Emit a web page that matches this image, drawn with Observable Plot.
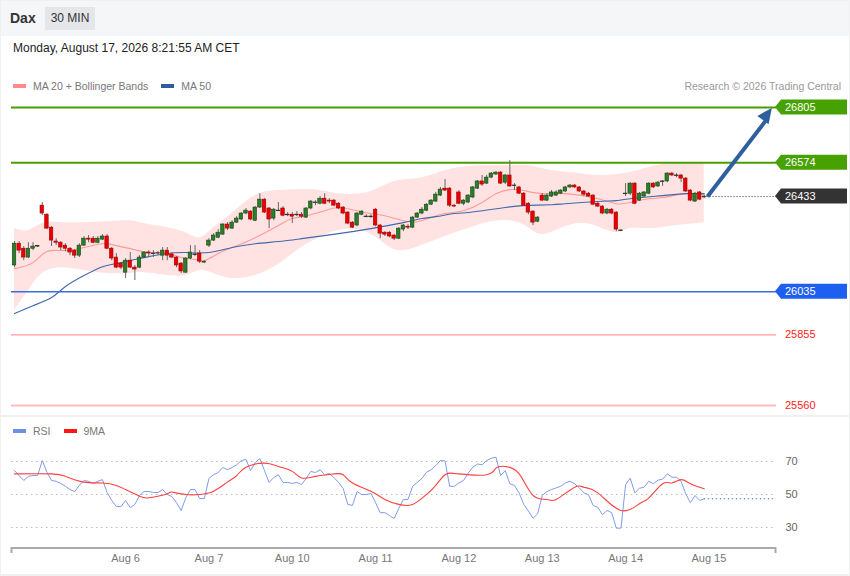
<!DOCTYPE html>
<html>
<head>
<meta charset="utf-8">
<script src="https://cdn.jsdelivr.net/npm/d3@7"></script>
<script src="https://cdn.jsdelivr.net/npm/@observablehq/plot@0.6"></script>
<style>
  html, body { margin: 0; padding: 0; background: #fff; }
  body { font-family: "Liberation Sans", Arial, sans-serif; }
  #wrap { position: relative; width: 850px; height: 576px; overflow: hidden; background: #eef0f2; }
  #top { position: absolute; left: 1px; top: 1px; width: 848px; height: 35px; background: #f5f6f8; }
  #main { position: absolute; left: 1px; top: 36px; width: 848px; height: 379px; background: #fff; }
  #rsiPanel { position: absolute; left: 1px; top: 417px; width: 848px; height: 157px; background: #fff; }
  .title { position: absolute; left: 10px; top: 10px; font-size: 14px; font-weight: bold; color: #333; }
  .tf { position: absolute; left: 45px; top: 7px; width: 50px; height: 23px; background: #e4e6ea; color: #333; font-size: 12px; line-height: 23px; text-align: center; }
  .date { position: absolute; left: 13px; top: 41px; font-size: 12px; color: #222; }
  .legend { position: absolute; font-size: 10.5px; color: #777; display: flex; align-items: center; }
  .sw { display: inline-block; width: 13px; height: 4px; margin-right: 7px; }
  .credit { position: absolute; right: 9px; top: 80px; font-size: 10.5px; color: #999; }
  #pricePlot { position: absolute; left: 0; top: 95px; }
  #rsiPlot { position: absolute; left: 0; top: 415px; }
</style>
</head>
<body>
<div id="wrap">
  <div id="top"></div>
  <div id="main"></div>
  <div id="rsiPanel"></div>
  <div class="title">Dax</div>
  <div class="tf">30 MIN</div>
  <div class="date">Monday, August 17, 2026 8:21:55 AM CET</div>
  <div class="legend" style="left:13px; top:80px;">
    <span class="sw" style="background:#ff8a8a"></span><span style="margin-right:13px">MA 20 + Bollinger Bands</span>
    <span class="sw" style="background:#2f5c9e"></span><span>MA 50</span>
  </div>
  <div class="credit">Research © 2026 Trading Central</div>
  <div class="legend" style="left:13px; top:425px;">
    <span class="sw" style="background:#6f8fe4"></span><span style="margin-right:13px">RSI</span>
    <span class="sw" style="background:#ff1414"></span><span>9MA</span>
  </div>
  <div id="pricePlot"></div>
  <div id="rsiPlot"></div>
</div>
<script>
// ---------- DATA ----------
const open = [26145,26236,26215,26178,26215,26224,26395,26357,26303,26245,
26240,26228,26215,26207,26186,26228,26257,26257,26240,26253,
26266,26215,26178,26153,26115,26165,26136,26136,26178,26199,
26195,26195,26186,26207,26191,26178,26153,26115,26174,26191,
26195,26157,26228,26249,26261,26274,26316,26299,26324,26337,
26362,26370,26332,26387,26420,26383,26341,26374,26383,26357,
26357,26357,26357,26345,26383,26408,26403,26424,26416,26416,
26403,26387,26366,26324,26312,26357,26349,26349,26378,26312,
26282,26282,26270,26257,26295,26307,26303,26345,26362,26374,
26399,26412,26437,26466,26466,26395,26450,26403,26408,26429,
26466,26496,26487,26512,26525,26533,26491,26521,26479,26471,
26445,26403,26370,26328,26437,26416,26433,26437,26445,26454,
26471,26479,26471,26454,26445,26437,26403,26391,26362,26378,
26366,26291,26445,26445,26487,26416,26433,26445,26487,26475,
26496,26496,26529,26521,26521,26508,26458,26412,26450,26429];
const close = [26236,26207,26178,26215,26224,26226,26362,26299,26249,26240,
26220,26215,26199,26186,26228,26257,26253,26240,26257,26266,
26215,26174,26136,26136,26165,26136,26128,26178,26199,26195,
26193,26196,26207,26186,26178,26145,26120,26174,26199,26189,
26161,26161,26249,26270,26282,26316,26299,26324,26341,26362,
26374,26337,26387,26420,26366,26337,26378,26372,26353,26355,
26349,26355,26349,26383,26412,26406,26424,26403,26412,26395,
26383,26362,26320,26303,26362,26370,26347,26347,26312,26278,
26274,26266,26257,26299,26312,26303,26345,26362,26378,26399,
26416,26441,26462,26458,26395,26391,26403,26416,26437,26471,
26496,26483,26512,26529,26533,26487,26521,26475,26477,26445,
26395,26366,26324,26345,26416,26437,26450,26450,26458,26471,
26479,26471,26454,26441,26433,26399,26391,26362,26378,26362,
26295,26289,26443,26487,26403,26445,26450,26487,26471,26491,
26494,26529,26521,26519,26508,26454,26416,26445,26420,26433];
const high = [26245,26245,26224,26240,26240,26228,26408,26362,26307,26257,
26245,26236,26220,26211,26236,26266,26270,26266,26266,26274,
26274,26220,26195,26157,26174,26199,26145,26186,26203,26207,
26207,26203,26220,26220,26199,26182,26157,26178,26228,26228,
26207,26165,26257,26278,26295,26320,26324,26332,26349,26366,
26383,26374,26391,26445,26424,26387,26383,26408,26391,26366,
26366,26370,26366,26387,26416,26416,26433,26445,26424,26420,
26408,26391,26370,26328,26366,26374,26357,26357,26383,26316,
26286,26286,26274,26303,26316,26316,26349,26366,26387,26403,
26420,26450,26471,26504,26471,26399,26458,26420,26441,26475,
26500,26521,26521,26533,26537,26537,26525,26583,26487,26475,
26450,26408,26374,26349,26445,26445,26458,26458,26462,26475,
26483,26483,26475,26458,26450,26441,26408,26395,26383,26383,
26370,26295,26487,26491,26491,26450,26454,26491,26491,26496,
26500,26533,26533,26529,26525,26512,26462,26450,26454,26437];
const low = [26136,26195,26165,26174,26207,26220,26353,26295,26224,26228,
26207,26203,26186,26174,26178,26224,26240,26236,26236,26249,
26211,26165,26132,26128,26090,26132,26082,26132,26174,26178,
26178,26186,26165,26165,26174,26136,26111,26111,26170,26182,
26153,26153,26220,26245,26257,26270,26291,26295,26320,26332,
26357,26332,26328,26383,26362,26299,26332,26370,26349,26349,
26320,26349,26341,26341,26378,26395,26399,26399,26403,26391,
26378,26357,26316,26299,26307,26353,26345,26341,26307,26257,
26266,26261,26249,26253,26286,26295,26299,26341,26357,26370,
26395,26408,26433,26454,26387,26387,26399,26395,26403,26424,
26462,26475,26483,26508,26521,26483,26483,26471,26458,26441,
26391,26357,26312,26324,26412,26412,26429,26433,26441,26450,
26466,26466,26450,26433,26429,26395,26387,26357,26357,26357,
26286,26286,26433,26437,26399,26412,26429,26441,26466,26471,
26475,26491,26516,26512,26491,26450,26412,26408,26416,26424];

// Bollinger bands (sampled at candle indices)
const bandIdx = [0,3,6,10,15,20,25,28,33,37,40,43,47,52,57,62,66,70,75,79,83,88,93,98,102,107,111,114,118,122,126,130,133,137,141,145,149];
const bandUpper = [26299,26291,26320,26324,26324,26328,26332,26320,26303,26282,26261,26303,26362,26437,26458,26462,26458,26445,26445,26471,26500,26512,26541,26558,26562,26562,26562,26550,26537,26529,26521,26525,26533,26554,26571,26575,26575];
const bandLower = [25956,26040,26111,26136,26124,26111,26111,26115,26103,26103,26124,26111,26090,26103,26149,26220,26262,26291,26291,26250,26207,26228,26266,26299,26324,26332,26303,26274,26299,26320,26307,26282,26299,26299,26307,26316,26324];

// Moving averages (sampled)
const ma20Idx = [0,4,7,11,15,19,22,26,29,33,36,39,41,44,47,52,57,60,63,67,70,73,77,80,84,87,90,93,97,101,104,107,110,114,119,126,130,133,137,140,145,149];
const ma20 = [26132,26157,26203,26207,26220,26236,26228,26211,26199,26195,26178,26170,26165,26195,26220,26261,26312,26341,26353,26374,26387,26378,26362,26353,26332,26328,26345,26362,26374,26408,26445,26462,26458,26445,26445,26424,26403,26408,26424,26429,26445,26441];
const ma50Idx = [0,4,8,11,15,19,22,26,29,33,37,42,47,52,57,62,70,77,84,88,91,95,98,106,110,116,119,126,130,133,140,145,149];
const ma50 = [25944,25977,26011,26057,26103,26140,26153,26170,26182,26195,26199,26199,26220,26236,26245,26257,26278,26299,26324,26341,26349,26362,26366,26387,26395,26399,26403,26412,26416,26424,26437,26445,26445];

// Key levels
const levelValues = [26805, 26574, 26433, 26035, 25855, 25560];
const levelKinds  = ["res", "res", "last", "sup", "sup2", "sup2"];
const targetLevel = 26805;

// RSI
const rsi = [64.5,61.5,58.5,61,61.5,61.5,70.6,63.5,58.5,58,
56.7,55,53,51.8,55.5,58.5,58,56.7,58,59,
51.2,46.4,42.7,42.7,46.4,42,44,49.4,51.8,51.8,
51.2,51.2,53,50,48.8,45,40.3,48,53,53,
47.5,47.5,59.7,62,63.3,66.4,65,66.4,68,70.6,
71.2,64.5,69.4,71.8,64.5,57.3,60.3,62,57.3,57.3,
56.7,57.3,56,59.7,64,63.3,65,62,62.7,60.3,
57.3,53.6,44,43.4,51.8,50,50,50.6,45,39,
39,37.3,35.4,41.5,47,47,55,57.3,59.7,63.5,
65,67.5,70.6,70.4,55,55,57,58.5,63,66.5,
68.5,68,70.6,72,72.6,61.5,64.5,56.5,55.5,51,
44,40,35.6,38.3,49.4,51.8,53,54,55,57,
58,56.5,54,51,49.8,43.3,42.3,37.7,40.3,39,
29.6,29.6,55.9,59.9,51,53.8,54.4,58,56.5,58.7,
59.3,62.5,60.5,60.5,58,50.4,45,49.4,46.4,47.4];
const ma9Idx = [0,8,11,15,19,22,24,27,29,33,34,37,40,43,46,48,50,54,57,60,62,65,69,71,73,77,80,83,86,89,91,93,96,102,104,106,109,112,115,117,121,123,126,131,135,137,140,142,144,146,149];
const ma9 = [62.5,62.5,61,57.5,57,55.5,53,49,48,50.5,51.5,50,50,52,57.5,61.5,66.5,69,67,64,60,61,62.5,62,57,52,47,44,44,50,55.5,62,62.5,62,66,67,62.5,49.5,47,47,54.4,54.4,51,40.3,44.4,47.8,56.5,57,59,56.5,53.5];
const rsiTicks = [30, 50, 70];

// Date ticks (candle index where each day label sits)
const dayTickIdx = [24, 42, 60, 78, 96, 114, 132, 150];
const dayLabels = ["Aug 6", "Aug 7", "Aug 10", "Aug 11", "Aug 12", "Aug 13", "Aug 14", "Aug 15"];

// ---------- BUILD ----------
const candles = open.map((o, i) => ({i, o, h: high[i], l: low[i], c: close[i]}));
const lastIdx = candles.length - 1;
const bands = bandIdx.map((i, k) => ({i, up: bandUpper[k], lo: bandLower[k]}));
const ma20Rows = ma20Idx.map((i, k) => ({i, v: ma20[k]}));
const ma50Rows = ma50Idx.map((i, k) => ({i, v: ma50[k]}));
const rsiRows = rsi.map((v, i) => ({i, v}));
const ma9Rows = ma9Idx.map((i, k) => ({i, v: ma9[k]}));
const levels = levelValues.map((v, k) => ({v, kind: levelKinds[k]}));

const xDomain = [-0.65, 164.6];
const xRange = [11, 776];
const font = "Liberation Sans, Arial, sans-serif";

const doji = d => Math.abs(d.c - d.o) < 3;
const upC = candles.filter(d => !doji(d) && d.c > d.o);
const dnC = candles.filter(d => !doji(d) && d.c < d.o);
const djC = candles.filter(doji);
const bw = 0.38;

const price = Plot.plot({
  width: 850, height: 320,
  marginLeft: 11, marginRight: 74, marginTop: 0, marginBottom: 0,
  x: {domain: xDomain, range: xRange, axis: null},
  y: {domain: [25560, 26805], range: [310, 12], axis: null},
  style: {background: "transparent", overflow: "visible", fontFamily: font},
  marks: [
    Plot.areaY(bands, {x: "i", y1: "lo", y2: "up", fill: "#ffe3e3", curve: "natural"}),
    Plot.line(ma20Rows, {x: "i", y: "v", stroke: "#ff9a9a", strokeWidth: 1.1, curve: "natural"}),
    Plot.line(ma50Rows, {x: "i", y: "v", stroke: "#4268ab", strokeWidth: 1.1, curve: "natural"}),
    Plot.ruleY(levels.filter(d => d.kind === "res"), {y: "v", stroke: "#4a9c00", strokeWidth: 2}),
    Plot.ruleY(levels.filter(d => d.kind === "sup"), {y: "v", stroke: "#3a6fd9", strokeWidth: 1.5}),
    Plot.ruleY(levels.filter(d => d.v === 25855), {y: "v", stroke: "#ff9a9a", strokeWidth: 1.3}),
    Plot.ruleY(levels.filter(d => d.v === 25560), {y: "v", stroke: "#ffbcbc", strokeWidth: 2}),
    Plot.ruleY(levels.filter(d => d.kind === "last"), {y: "v", x1: lastIdx + 0.6, x2: xDomain[1], stroke: "#334", strokeWidth: 1, strokeDasharray: "1,2"}),
    Plot.ruleX(candles, {x: "i", y1: "l", y2: "h", stroke: "#666", strokeWidth: 1}),
    Plot.rect(upC, {x1: d => d.i - bw, x2: d => d.i + bw, y1: "o", y2: "c", fill: "#2a7d2a", stroke: "#174417", strokeWidth: 0.6}),
    Plot.rect(dnC, {x1: d => d.i - bw, x2: d => d.i + bw, y1: "o", y2: "c", fill: "#e80000", stroke: "#a30000", strokeWidth: 0.6}),
    Plot.rect(djC, {x1: d => d.i - bw, x2: d => d.i + bw, y1: "o", y2: "c", fill: "#333", stroke: "#333", strokeWidth: 0.8}),
    Plot.link([{x1: lastIdx + 0.7, y1: levelValues[2], x2: 162.2, y2: 26748}], {x1: "x1", y1: "y1", x2: "x2", y2: "y2", stroke: "#2e5f9f", strokeWidth: 4})
  ]
});
document.getElementById("pricePlot").appendChild(price);

// label boxes and arrowhead using the plot's scales
{
  const xs = price.scale("x"), ys = price.scale("y");
  const svg = d3.select(price);
  const boxColor = {res: "#47a100", last: "#333333", sup: "#1f5ff0"};
  const g = svg.append("g").attr("text-anchor", "start");
  levels.forEach(d => {
    const y = ys.apply(d.v);
    if (boxColor[d.kind]) {
      g.append("path")
        .attr("d", `M775,${y} L781,${y - 7.5} L847,${y - 7.5} L847,${y + 7.5} L781,${y + 7.5} Z`)
        .attr("fill", boxColor[d.kind]);
      g.append("text").attr("x", 785).attr("y", y + 4).attr("fill", "#fff")
        .attr("text-anchor", "start").attr("font-size", 11).attr("font-family", font).text(d.v);
    } else {
      g.append("text").attr("x", 785).attr("y", y + 4).attr("fill", "#ff1a1a")
        .attr("text-anchor", "start").attr("font-size", 11).attr("font-family", font).text(d.v);
    }
  });
  // arrowhead
  const x0 = xs.apply(lastIdx + 0.7), y0 = ys.apply(levelValues[2]);
  const tx = xs.apply(163.7), ty = ys.apply(targetLevel - 4);
  const ang = Math.atan2(ty - y0, tx - x0);
  const L = 15, Wd = 7;
  const bx = tx - L * Math.cos(ang), by = ty - L * Math.sin(ang);
  const px = -Math.sin(ang), py = Math.cos(ang);
  g.append("path")
    .attr("d", `M${tx},${ty} L${bx + Wd * px},${by + Wd * py} L${bx - Wd * px},${by - Wd * py} Z`)
    .attr("fill", "#2e5f9f");
}

const rsiPlot = Plot.plot({
  width: 850, height: 160,
  marginLeft: 11, marginRight: 74, marginTop: 0, marginBottom: 27,
  x: {domain: xDomain, range: xRange},
  y: {domain: [30, 70], range: [112, 46]},
  style: {background: "transparent", overflow: "visible", fontFamily: font, fontSize: "11px"},
  marks: [
    Plot.ruleY(rsiTicks, {stroke: "#bdbdbd", strokeDasharray: "1.5,3.5"}),
    Plot.ruleY([rsi[lastIdx]], {x1: lastIdx, x2: xDomain[1], stroke: "#4d72d8", strokeDasharray: "1.5,2.5"}),
    Plot.line(rsiRows, {x: "i", y: "v", stroke: "#7f9ce9", strokeWidth: 1}),
    Plot.line(ma9Rows, {x: "i", y: "v", stroke: "#ff4040", strokeWidth: 1.1, curve: "natural"}),
    Plot.axisY({anchor: "right", ticks: rsiTicks, tickSize: 0, tickPadding: 9, label: null, fill: "#666", fontSize: 11}),
    Plot.axisX({ticks: dayTickIdx, tickFormat: d => dayLabels[dayTickIdx.indexOf(d)], tickSize: 0, tickPadding: 6, label: null, fill: "#777", fontSize: 11})
  ]
});
document.getElementById("rsiPlot").appendChild(rsiPlot);
{
  const svg = d3.select(rsiPlot);
  const yb = 160 - 27;
  svg.append("path")
    .attr("d", `M11.5,${yb + 5} L11.5,${yb} L775.5,${yb} L775.5,${yb + 5}`)
    .attr("fill", "none").attr("stroke", "#aaa").attr("stroke-width", 2);
}
</script>
</body>
</html>
